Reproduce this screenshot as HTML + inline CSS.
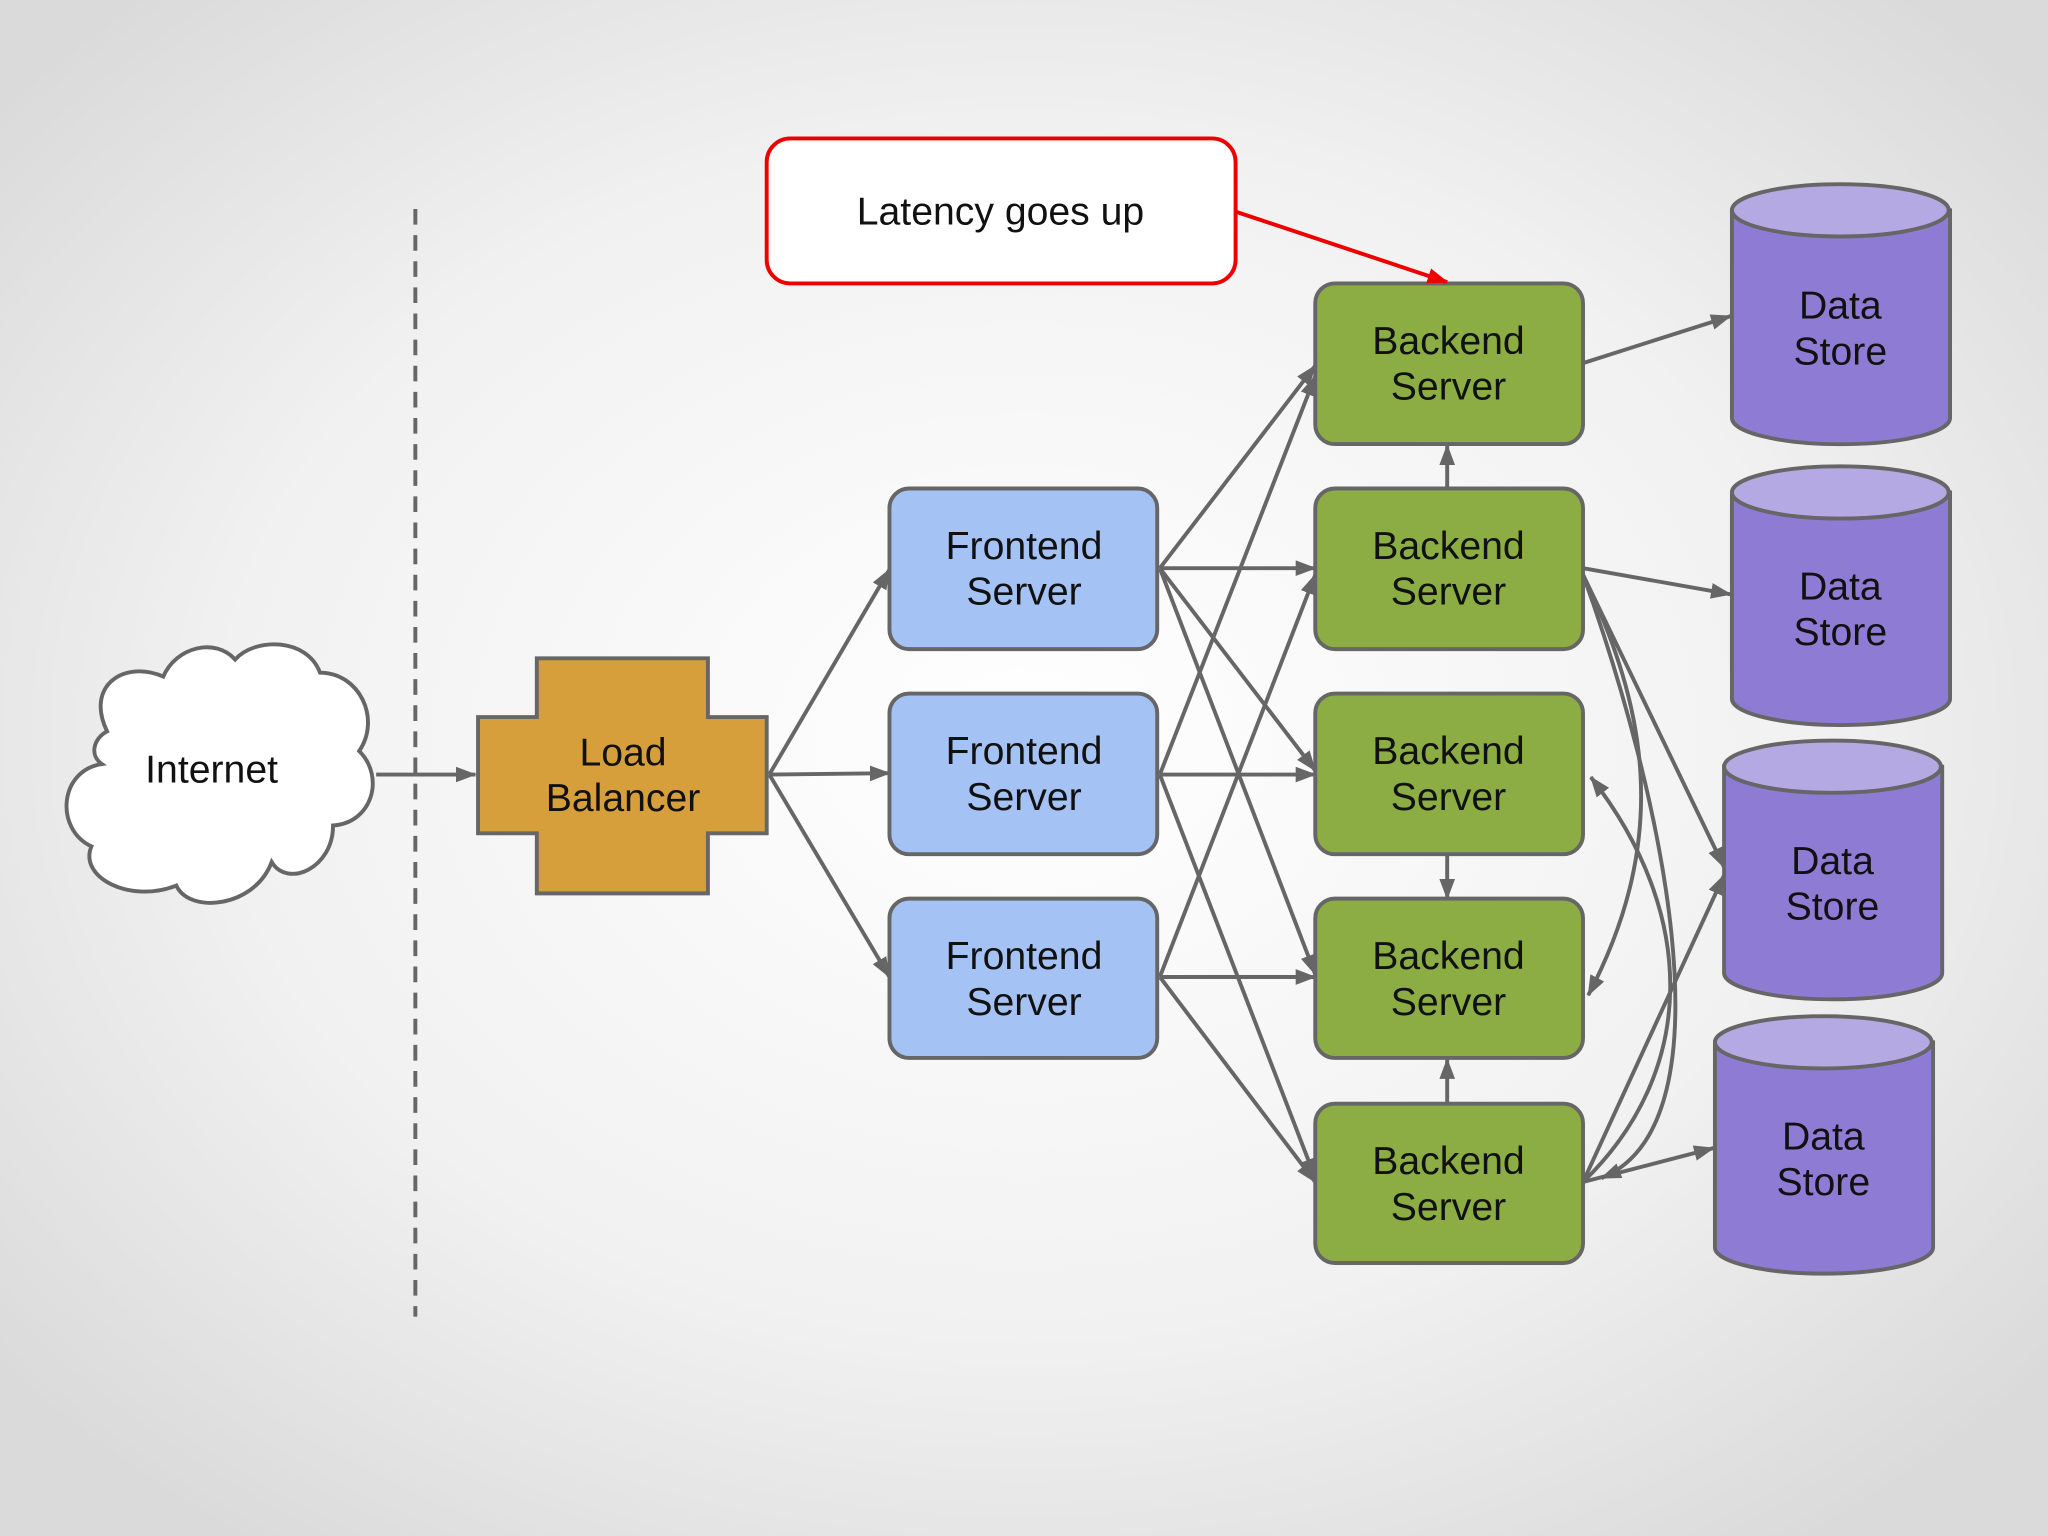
<!DOCTYPE html>
<html><head><meta charset="utf-8"><style>
html,body{margin:0;padding:0;width:2048px;height:1536px;overflow:hidden}
svg{display:block}
text{font-family:"Liberation Sans",sans-serif;font-size:30px;fill:#111;text-anchor:middle}
</style></head><body>
<svg width="2048" height="1536" viewBox="0 0 1568 1176" xmlns="http://www.w3.org/2000/svg">
<defs>
<radialGradient id="bg" cx="50%" cy="48%" r="65%">
<stop offset="0" stop-color="#ffffff"/><stop offset="0.6" stop-color="#f1f1f1"/><stop offset="1" stop-color="#dadada"/>
</radialGradient>
<marker id="ah" viewBox="0 0 16 12" refX="15" refY="6" markerWidth="16" markerHeight="12" orient="auto" markerUnits="userSpaceOnUse">
<path d="M0,0 L16,6 L0,12 z" fill="#666"/>
</marker>
<marker id="rh" viewBox="0 0 16 12" refX="15" refY="6" markerWidth="16" markerHeight="12" orient="auto" markerUnits="userSpaceOnUse">
<path d="M0,0 L16,6 L0,12 z" fill="#e00"/>
</marker>
</defs>
<rect width="1568" height="1176" fill="url(#bg)"/>
<line x1="318" y1="160" x2="318" y2="1008" stroke="#666" stroke-width="3" stroke-dasharray="12,8"/>

<!-- cloud -->
<path d="M82,560 C65,525 95,505 125,518 C135,495 165,488 180,505 C195,488 235,488 245,515 C275,515 292,550 275,575 C295,595 285,630 255,632 C255,665 220,680 208,660 C195,695 145,700 135,678 C100,692 60,672 70,648 C42,635 45,590 78,585 C68,578 72,565 82,560 Z" fill="#fff" stroke="#666" stroke-width="3"/>
<text x="162" y="599">Internet</text>

<g stroke="#666" stroke-width="3" fill="none" marker-end="url(#ah)">
<line x1="288" y1="593" x2="364" y2="593"/>
<line x1="589" y1="593" x2="681" y2="436"/>
<line x1="589" y1="593" x2="681" y2="592"/>
<line x1="589" y1="593" x2="681" y2="748"/>
<line x1="888" y1="435" x2="1007" y2="280"/>
<line x1="888" y1="435" x2="1007" y2="435"/>
<line x1="888" y1="435" x2="1007" y2="590"/>
<line x1="888" y1="435" x2="1007" y2="746"/>
<line x1="888" y1="593" x2="1007" y2="288"/>
<line x1="888" y1="593" x2="1007" y2="593"/>
<line x1="888" y1="593" x2="1007" y2="902"/>
<line x1="888" y1="748" x2="1007" y2="440"/>
<line x1="888" y1="748" x2="1007" y2="748"/>
<line x1="888" y1="748" x2="1007" y2="905"/>
<line x1="1108" y1="374" x2="1108" y2="341"/>
<line x1="1108" y1="655" x2="1108" y2="688"/>
<line x1="1108" y1="845" x2="1108" y2="811"/>
<line x1="1212" y1="278" x2="1325" y2="242"/>
<line x1="1212" y1="435" x2="1325" y2="455"/>
<line x1="1212" y1="440" x2="1320" y2="664"/>
<line x1="1212" y1="905" x2="1312" y2="879"/>
<line x1="1212" y1="905" x2="1320" y2="670"/>
<path d="M1212,440 C1260,540 1280,640 1216,762"/>
<path d="M1212,905 C1300,820 1300,700 1218,595"/>
<path d="M1212,440 C1270,600 1330,860 1226,902"/>
</g>

<path d="M411,504 H542 V549 H587 V638 H542 V684 H411 V638 H366 V549 H411 Z" fill="#d79f3c" stroke="#666" stroke-width="3"/>
<text x="477" y="586">Load</text><text x="477" y="621">Balancer</text>

<g fill="#a4c2f4" stroke="#666" stroke-width="3">
<rect x="681" y="374" width="205" height="123" rx="15"/>
<rect x="681" y="531" width="205" height="123" rx="15"/>
<rect x="681" y="688" width="205" height="122" rx="15"/>
</g>
<text x="784" y="428">Frontend</text><text x="784" y="463">Server</text>
<text x="784" y="585">Frontend</text><text x="784" y="620">Server</text>
<text x="784" y="742">Frontend</text><text x="784" y="777">Server</text>

<g fill="#8bad44" stroke="#666" stroke-width="3">
<rect x="1007" y="217" width="205" height="123" rx="15"/>
<rect x="1007" y="374" width="205" height="123" rx="15"/>
<rect x="1007" y="531" width="205" height="123" rx="15"/>
<rect x="1007" y="688" width="205" height="122" rx="15"/>
<rect x="1007" y="845" width="205" height="122" rx="15"/>
</g>
<text x="1109" y="271">Backend</text><text x="1109" y="306">Server</text>
<text x="1109" y="428">Backend</text><text x="1109" y="463">Server</text>
<text x="1109" y="585">Backend</text><text x="1109" y="620">Server</text>
<text x="1109" y="742">Backend</text><text x="1109" y="777">Server</text>
<text x="1109" y="899">Backend</text><text x="1109" y="934">Server</text>

<g stroke="#666" stroke-width="3">
<path d="M1326,161 V320 A83,20 0 0 0 1493,320 V161 Z" fill="#8e7cd4"/><ellipse cx="1409" cy="161" rx="83" ry="20" fill="#b4a9e2"/>
<path d="M1326,377 V535 A83,20 0 0 0 1493,535 V377 Z" fill="#8e7cd4"/><ellipse cx="1409" cy="377" rx="83" ry="20" fill="#b4a9e2"/>
<path d="M1320,587 V745 A83,20 0 0 0 1487,745 V587 Z" fill="#8e7cd4"/><ellipse cx="1403" cy="587" rx="83" ry="20" fill="#b4a9e2"/>
<path d="M1313,798 V955 A83,20 0 0 0 1480,955 V798 Z" fill="#8e7cd4"/><ellipse cx="1396" cy="798" rx="83" ry="20" fill="#b4a9e2"/>
</g>
<text x="1409" y="244">Data</text><text x="1409" y="279">Store</text>
<text x="1409" y="459">Data</text><text x="1409" y="494">Store</text>
<text x="1403" y="669">Data</text><text x="1403" y="704">Store</text>
<text x="1396" y="880">Data</text><text x="1396" y="915">Store</text>

<rect x="587" y="106" width="359" height="111" rx="18" fill="#fff" stroke="#e00" stroke-width="3"/>
<text x="766" y="172">Latency goes up</text>
<line x1="946" y1="162" x2="1108" y2="216" stroke="#e00" stroke-width="3" marker-end="url(#rh)"/>
</svg>
</body></html>
